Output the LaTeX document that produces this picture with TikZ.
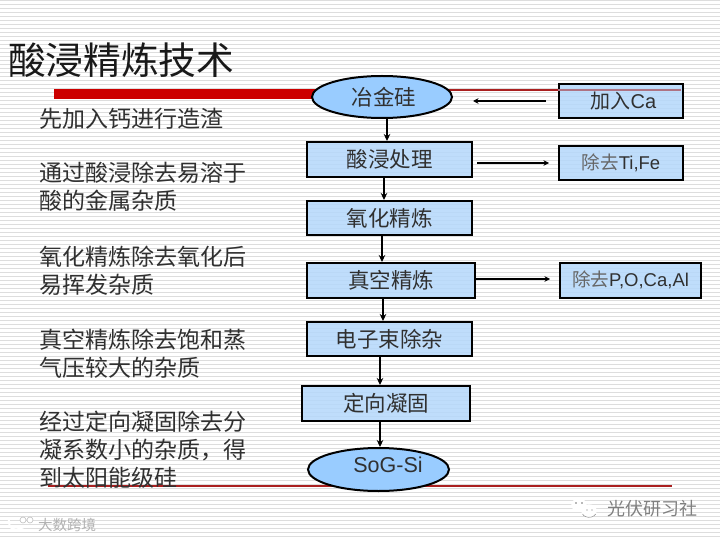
\documentclass[tikz,border=0pt]{standalone}
\usepackage{fontspec}
\setmainfont{Liberation Sans}
\newfontfamily\cjk{Noto Sans CJK SC}
\usetikzlibrary{arrows.meta,shapes.geometric}
\definecolor{boxblue}{HTML}{B4D8FB}
\definecolor{ovalblue}{HTML}{99CCFF}
\definecolor{barred}{HTML}{CC0000}
\definecolor{stripe}{HTML}{DDDDDD}
\definecolor{thinred}{HTML}{AA2020}
\definecolor{inkgrey}{HTML}{303030}
\tikzset{
  flowbox/.style={draw=black,line width=2pt,fill=boxblue,fill opacity=0.85,text opacity=1,font=\cjk\fontsize{21.5}{26}\selectfont,text=inkgrey,inner sep=0pt},
  sidebox/.style={flowbox,font=\fontsize{18.5}{22}\selectfont},
  oval/.style={draw=black,line width=2pt,fill=ovalblue,ellipse,inner sep=0pt,font=\cjk\fontsize{21.5}{26}\selectfont,text=inkgrey},
  flowarrow/.style={draw=black,line width=1.5pt,-{Stealth[length=7pt,width=6.5pt]}},
  sidearrow/.style={draw=black,line width=1.3pt,-{Stealth[length=5.5pt,width=5.5pt]}},
  notetext/.style={anchor=north west,font=\cjk\fontsize{23}{28}\selectfont,text=inkgrey,align=left,inner sep=0pt},
  mark text/.style={font=\cjk\fontsize{18}{20}\selectfont,inner sep=0pt,text=black!50},
}
\begin{document}
\begin{tikzpicture}[x=1pt,y=-1pt]
\useasboundingbox (0,0) rectangle (720,540);
\fill[white] (0,0) rectangle (720,540);
\foreach \yy in {0,4,...,536} {\fill[stripe] (0,\yy) rectangle (720,\yy+1.3);}
\node[anchor=west,inner sep=0pt,font=\cjk\fontsize{37.7}{44}\selectfont,text=black!90] (title) at (8,60) {酸浸精炼技术};
\fill[barred] (54,89) rectangle (330,99);
\draw[thinred,line width=1.5pt] (48,486) -- (672,486);

\node[notetext] (n1) at (39,107.5) {先加入钙进行造渣};
\node[notetext] (n2) at (39,161.5) {通过酸浸除去易溶于\\酸的金属杂质};
\node[notetext] (n3) at (39,245.5) {氧化精炼除去氧化后\\易挥发杂质};
\node[notetext] (n4) at (39,328.5) {真空精炼除去饱和蒸\\气压较大的杂质};
\node[notetext] (n5) at (39,410.5) {经过定向凝固除去分\\凝系数小的杂质，得\\到太阳能级硅};

\draw[thinred,line width=1.5pt] (448,90) -- (559,90);

\node[oval,minimum width=140pt,minimum height=42pt] (ore) at (382,97) {\hspace*{4pt}\raisebox{1pt}{冶金硅}};
\node[flowbox,minimum width=165pt,minimum height=35pt] (acid) at (389.5,159.5) {酸浸处理};
\node[flowbox,minimum width=165pt,minimum height=34pt] (oxid) at (389.5,218) {氧化精炼};
\node[flowbox,minimum width=168pt,minimum height=35pt] (vac) at (391,280.5) {真空精炼};
\node[flowbox,minimum width=165pt,minimum height=34pt] (ebeam) at (389.5,339) {电子束除杂};
\node[flowbox,minimum width=168pt,minimum height=35pt] (dir) at (386,403.5) {定向凝固};
\node[oval,minimum width=141pt,minimum height=43pt,font=\fontsize{21.5}{26}\selectfont] (sog) at (378.5,469.5) {\hspace*{19pt}\raisebox{9pt}{SoG-Si}};

\node[flowbox,minimum width=124pt,minimum height=34pt,font=\fontsize{20}{26}\selectfont] (ca) at (621,101) {\hspace*{5pt}{\cjk 加入}Ca};
\node[sidebox,minimum width=124pt,minimum height=34pt] (tife) at (621,163) {\raisebox{2pt}{{\cjk\color{black!60}除去}Ti,Fe}};
\node[sidebox,minimum width=141pt,minimum height=35pt] (pal) at (630.5,280.5) {\raisebox{3pt}{{\cjk\color{black!60}除去}P,O,Ca,Al}};
\draw[thinred!55!boxblue,line width=1.5pt] (ca.west |- 0,90) -- (681,90);

\draw[flowarrow] ([xshift=5pt]ore.south) -- ([xshift=-2.5pt]acid.north);
\draw[flowarrow] ([xshift=-5.5pt]acid.south) -- ([xshift=-5.5pt]oxid.north);
\draw[flowarrow] ([xshift=-7.5pt]oxid.south) -- ([xshift=-9pt]vac.north);
\draw[flowarrow] ([xshift=-8pt]vac.south) -- ([xshift=-6.5pt]ebeam.north);
\draw[flowarrow] ([xshift=-9.5pt]ebeam.south) -- ([xshift=-6pt]dir.north);
\draw[flowarrow] ([xshift=-6pt]dir.south) -- ([xshift=1.5pt]sog.north);

\draw[sidearrow,shorten <=12pt,shorten >=20pt] (ca.west) -- (ca.west -| ore.east);
\draw[sidearrow,shorten <=4pt,shorten >=9pt] (acid.east |- tife.west) -- (tife.west);
\draw[sidearrow,shorten >=9pt] ([yshift=1.5pt]vac.east) -- ([yshift=1.5pt]pal.west);

\node[mark text,anchor=west] (brand) at (607,509) {光伏研习社};
\draw[white,line width=1.4pt,fill=white] (579,505) ellipse (7pt and 6pt);
\draw[white,line width=1.4pt,fill=white] (589,511) ellipse (7pt and 6pt);
\draw[black!45,line width=.5pt] (582.5,514) arc (200:340:7pt and 5pt);
\fill[black!55] (576,503) circle (.8pt) (582,503) circle (.8pt) (587,510) circle (.7pt) (592,510) circle (.7pt);
\node[mark text,anchor=west,font=\cjk\fontsize{14.5}{16}\selectfont,text=black!30] (source) at (38,525) {大数跨境};
\draw[white,line width=2pt,line cap=round] (9,519) .. controls (8,529) and (14,532) .. (24,527);
\draw[black!25,line width=.6pt,fill=white] (23,520) circle (3pt) (30,520) circle (3pt);
\end{tikzpicture}
\end{document}
